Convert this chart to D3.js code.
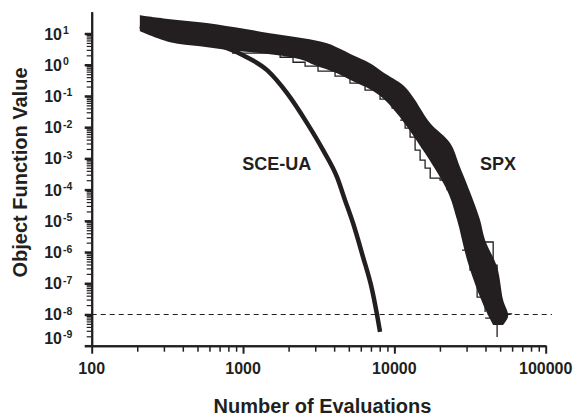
<!DOCTYPE html>
<html lang="en">
<head>
<meta charset="UTF-8">
<title>SCE-UA vs SPX</title>
<script src="https://cdnjs.cloudflare.com/ajax/libs/d3/7.8.5/d3.min.js"></script>
<style>
    body { margin: 0; background: #fff; }
    svg { font-family: "Liberation Sans", Arial, sans-serif; font-weight: bold; }
</style>
</head>
<body>
<svg id="chart"></svg>
<script>
    const width = 578;
    const height = 419;
    const ink = "#231f20";

    const xTicks = [100, 1000, 10000, 100000];
    const yExponents = [1, 0, -1, -2, -3, -4, -5, -6, -7, -8, -9];
    const threshold = 1e-8;
    const thresholdEnd = 110000;

    // SCE-UA bundle (evaluations, object function value)
    const sceRun = [[208, 17], [520, 6.5], [1000, 2.02], [1442, 0.67], [1954, 0.123],
        [2649, 0.0135], [3380, 1.84e-3], [4180, 2.5e-4], [4720, 4.6e-5], [5330, 8.5e-6],
        [6210, 6.9e-7], [7130, 6.1e-8], [7690, 9.5e-9], [8040, 2.75e-9]];

    // SPX band, upper and lower envelope
    const spxUpper = [[208, 38.5], [330, 28.7], [520, 23], [885, 15.9], [1507, 10.2],
        [2495, 7.08], [3590, 4.9], [4580, 2.92], [5330, 2.02], [6900, 1.12], [8410, 0.577],
        [11430, 0.221], [13300, 0.0914], [17220, 0.0135], [23330, 3.1e-3], [27170, 5.2e-4],
        [33140, 4.6e-5], [36830, 1.06e-5], [39780, 2.4e-6], [47740, 3.3e-7],
        [52310, 2.9e-8], [56480, 8.9e-9], [52310, 4.6e-9]];
    const spxLower = [[208, 11.9], [330, 5.3], [520, 3.9], [820, 2.92], [1507, 2.17],
        [2380, 1.5], [2990, 0.966], [4180, 0.536], [5330, 0.297], [6900, 0.165],
        [8410, 0.085], [10110, 0.0326], [12700, 7.5e-3], [22280, 9.6e-5],
        [25980, 1.06e-5], [30270, 5.5e-7], [36830, 3.6e-8], [41020, 1.1e-8], [44970, 4.6e-9]];

    // single SPX runs that leave the band
    const spxRuns = [
        [[846, 2.34], [1758, 1.74], [2140, 1.2], [2570, 0.9], [3130, 0.62], [4055, 0.43],
         [5090, 0.256], [6400, 0.153], [8040, 0.079], [9660, 0.0407], [11250, 0.0195],
         [13090, 6.9e-3], [15240, 2.1e-3]],
        [[10910, 0.0168], [11780, 9.3e-3], [12700, 4.8e-3], [13710, 1.84e-3], [14790, 8.8e-4],
         [15960, 4.9e-4], [17250, 2.33e-4], [20040, 2.0e-4], [22280, 9.6e-5]],
        [[35730, 2.1e-6], [44970, 3.8e-7], [47740, 1.27e-7]],
        [[28000, 1.16e-6], [31620, 2.65e-7], [35230, 3.6e-8], [39780, 1.2e-8]],
        [[39780, 7.7e-9], [47740, 1.9e-9]],
        [[50000, 1.05e-8], [60000, 1.05e-8]]
    ];

    let svg = d3.select("#chart")
        .attr("width", width)
        .attr("height", height);

    let x = d3.scaleLog().domain([100, 100000]).range([91.7, 545.7]);
    let y = d3.scaleLog().domain([1e-9, 50]).range([345.7, 11.7]);

    let xMinor = [];
    xTicks.slice(0, -1).forEach(d => { for (let k = 2; k <= 9; k++) xMinor.push(d * k); });
    let yMinor = [];
    yExponents.slice(1).forEach(e => {
        for (let k = 2; k <= 9; k++) {
            let v = k * Math.pow(10, e);
            if (v <= 50) yMinor.push(v);
        }
    });

    // dashed threshold line
    svg.append("line")
        .attr("x1", x(100)).attr("x2", x(thresholdEnd))
        .attr("y1", y(threshold)).attr("y2", y(threshold))
        .attr("stroke", ink).attr("stroke-width", 1.2)
        .attr("stroke-dasharray", "5,4");

    let line = d3.line().x(d => x(d[0])).y(d => y(d[1]));
    let smooth = d3.line().x(d => x(d[0])).y(d => y(d[1])).curve(d3.curveCatmullRom);

    // SPX band
    svg.append("path")
        .attr("d", smooth(spxUpper) + "L" + smooth(spxLower.slice().reverse()).slice(1) + "Z")
        .attr("fill", ink);

    svg.selectAll(".run")
        .data(spxRuns)
        .join("path")
        .attr("class", "run")
        .attr("d", d3.line().x(d => x(d[0])).y(d => y(d[1])).curve(d3.curveStepAfter))
        .attr("fill", "none")
        .attr("stroke", ink)
        .attr("stroke-width", 1.3);

    // SCE-UA
    svg.append("path")
        .attr("d", line.curve(d3.curveMonotoneX)(sceRun))
        .attr("fill", "none")
        .attr("stroke", ink)
        .attr("stroke-width", 4.5)
        .attr("stroke-linejoin", "round");

    // axes
    function styleAxis(g, w) {
        g.select(".domain").attr("stroke", ink).attr("stroke-width", 2);
        g.selectAll(".tick line").attr("stroke", ink).attr("stroke-width", w);
    }

    svg.append("g")
        .attr("transform", "translate(" + x(100) + ",0)")
        .call(d3.axisLeft(y).tickValues(yMinor).tickSize(5).tickSizeOuter(0).tickFormat(""))
        .call(g => styleAxis(g, 1.2));
    svg.append("g")
        .attr("transform", "translate(" + x(100) + ",0)")
        .call(d3.axisLeft(y).tickValues(yExponents.map(e => Math.pow(10, e))).tickSize(7).tickSizeOuter(0).tickFormat(""))
        .call(g => styleAxis(g, 2.5));

    svg.append("g")
        .attr("transform", "translate(0," + y(1e-9) + ")")
        .call(d3.axisBottom(x).tickValues(xMinor).tickSize(6).tickSizeOuter(0).tickFormat(""))
        .call(g => styleAxis(g, 1.5));
    svg.append("g")
        .attr("transform", "translate(0," + y(1e-9) + ")")
        .call(d3.axisBottom(x).tickValues(xTicks).tickSize(8).tickSizeOuter(0).tickFormat(""))
        .call(g => styleAxis(g, 2));

    // y tick labels 10^n
    let ylab = svg.selectAll(".ylab")
        .data(yExponents)
        .join("g")
        .attr("class", "ylab")
        .attr("transform", e => "translate(0," + (y(Math.pow(10, e)) + (e === -9 ? -8 : 0)) + ")");
    ylab.append("text")
        .attr("x", 62).attr("y", 6)
        .attr("text-anchor", "end")
        .attr("font-size", 16)
        .attr("fill", ink)
        .text("10");
    ylab.append("text")
        .attr("x", 63).attr("y", 0.5)
        .attr("font-size", 10.5)
        .attr("fill", ink)
        .text(e => String(e));

    svg.selectAll(".xlab")
        .data(xTicks)
        .join("text")
        .attr("class", "xlab")
        .attr("x", d => x(d))
        .attr("y", 373.5)
        .attr("text-anchor", "middle")
        .attr("font-size", 16)
        .attr("fill", ink)
        .text(d => d);

    // titles
    svg.append("text")
        .attr("transform", "translate(27,172.5) rotate(-90)")
        .attr("text-anchor", "middle")
        .attr("font-size", 20)
        .attr("fill", ink)
        .text("Object Function Value");
    svg.append("text")
        .attr("x", 322.5).attr("y", 413)
        .attr("text-anchor", "middle")
        .attr("font-size", 20)
        .attr("fill", ink)
        .text("Number of Evaluations");

    // series labels
    svg.append("text")
        .attr("x", x(1670)).attr("y", y(4.2e-4))
        .attr("text-anchor", "middle")
        .attr("font-size", 18)
        .attr("fill", ink)
        .text("SCE-UA");
    svg.append("text")
        .attr("x", x(48400)).attr("y", y(4.2e-4))
        .attr("text-anchor", "middle")
        .attr("font-size", 18)
        .attr("fill", ink)
        .text("SPX");
</script>
</body>
</html>
